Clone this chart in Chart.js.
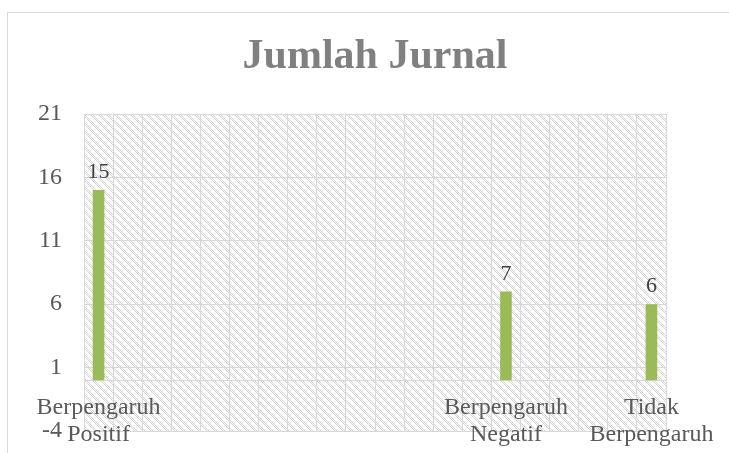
<!DOCTYPE html>
<html><head><meta charset="utf-8">
<script src="https://cdn.jsdelivr.net/npm/chart.js@4.4.1/dist/chart.umd.min.js"></script>
<style>html,body{margin:0;padding:0;background:#fff;overflow:hidden}</style>
</head><body>
<canvas id="c" width="729" height="453"></canvas>
<script>
const chartTitle = 'Jumlah Jurnal';
const categories = [
  'Berpengaruh Positif', '', '', '', '', '', '', '', '', '',
  '', '', '', '', 'Berpengaruh Negatif', '', '', '', '', 'Tidak Berpengaruh'
];
const values = [
  15, null, null, null, null, null, null, null, null, null,
  null, null, null, null, 7, null, null, null, null, 6
];
const yTicks = [-4, 1, 6, 11, 16, 21];

const SERIF = '"Liberation Serif", "Times New Roman", serif';

function makePattern(ctx) {
  const t = document.createElement('canvas');
  t.width = 8; t.height = 8;
  const g = t.getContext('2d');
  g.fillStyle = '#fff'; g.fillRect(0, 0, 8, 8);
  g.fillStyle = '#d6d6d6';
  for (let y = 0; y < 8; y++) {
    for (let x = 0; x < 8; x++) {
      const d = ((x - y) % 8 + 8) % 8;
      if (d === 0 || d === 2) g.fillRect(x, y, 1, 1);
    }
  }
  return ctx.createPattern(t, 'repeat');
}

const deco = {
  id: 'deco',
  beforeDraw(chart) {
    const {ctx, chartArea: a} = chart;
    ctx.save();
    ctx.fillStyle = '#fff';
    ctx.fillRect(0, 0, chart.width, chart.height);
    ctx.strokeStyle = '#d9d9d9';
    ctx.lineWidth = 1;
    ctx.strokeRect(7.5, 12.5, chart.width, chart.height);
    ctx.fillStyle = makePattern(ctx);
    ctx.fillRect(a.left, a.top, a.right - a.left, a.bottom - a.top);
    ctx.restore();
  },
  afterDatasetsDraw(chart) {
    const {ctx} = chart;
    const meta = chart.getDatasetMeta(0);
    ctx.save();
    ctx.font = '22px ' + SERIF;
    ctx.fillStyle = '#404040';
    ctx.textAlign = 'center';
    ctx.textBaseline = 'alphabetic';
    meta.data.forEach((bar, i) => {
      const v = values[i];
      if (v === null || v === undefined) return;
      ctx.fillText(String(v), bar.x, bar.y - 12);
    });
    ctx.restore();
  }
};

new Chart(document.getElementById('c'), {
  type: 'bar',
  data: {
    labels: categories.map(c => c ? c.split(' ') : ''),
    datasets: [{
      data: values,
      backgroundColor: '#9bbb59',
      barPercentage: 0.4,
      categoryPercentage: 1
    }]
  },
  options: {
    responsive: false,
    animation: false,
    layout: {padding: {left: 0, right: 61, top: 0, bottom: 22}},
    plugins: {
      legend: {display: false},
      tooltip: {enabled: false},
      title: {
        display: true,
        fullSize: false,
        text: chartTitle,
        color: '#808080',
        font: {family: SERIF, size: 42, weight: 'bold', lineHeight: 1.2},
        padding: {top: 32, bottom: 31.6}
      }
    },
    scales: {
      x: {
        type: 'category',
        position: {y: 0},
        offset: true,
        grid: {offset: true, color: '#d9d9d9', lineWidth: 1, drawTicks: false},
        border: {color: '#d9d9d9', width: 1},
        ticks: {
          autoSkip: false, maxRotation: 0, minRotation: 0, padding: 14,
          color: '#595959',
          font: {family: SERIF, size: 24, lineHeight: 1.125}
        }
      },
      y: {
        min: -4, max: 21,
        afterBuildTicks: s => { s.ticks = yTicks.map(v => ({value: v})); },
        afterFit: s => { s.width = 84; s.paddingTop = 0; s.paddingBottom = 0; },
        grid: {color: '#d9d9d9', lineWidth: 1, drawTicks: false},
        border: {display: false},
        ticks: {
          padding: 22,
          color: '#595959',
          font: {family: SERIF, size: 24}
        }
      }
    }
  },
  plugins: [deco]
});
</script>
</body></html>
